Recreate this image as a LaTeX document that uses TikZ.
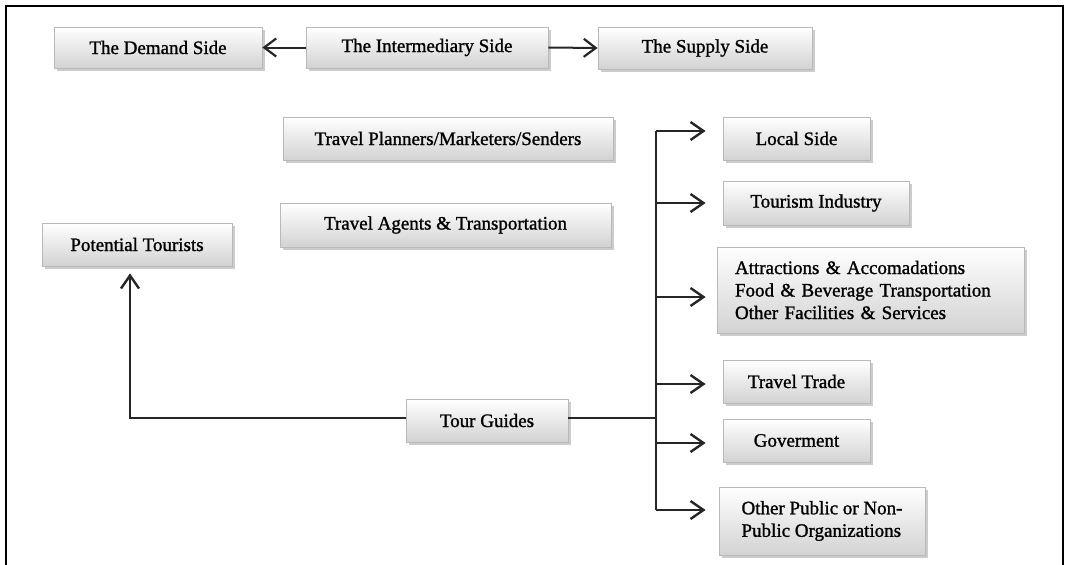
\documentclass[tikz,border=0pt]{standalone}
\usepackage{fontspec}
\setmainfont{Liberation Serif}
\newfontfamily\boxfont{Liberation Serif}[FakeBold=1.2]
\usetikzlibrary{arrows.meta,shadows}
\tikzset{
  box/.style={draw=gray!55, line width=0.8pt, top color=white, bottom color=gray!35,
    drop shadow={shadow xshift=2.5pt, shadow yshift=-3pt, opacity=0.5, fill=gray!80},
    inner sep=0pt, font=\boxfont\fontsize{19}{22.5}\selectfont, text=black},
  arr/.style={draw=black!85, line width=2.6pt, -{Straight Barb[length=13pt,width=18pt,line width=2.4pt]}},
  tarr/.style={draw=black!85, line width=2pt, -{Straight Barb[length=12pt,width=18pt,line width=2.2pt]}},
  ln/.style={draw=black!85, line width=2.6pt},
  frame/.style={draw=black, line width=1.8pt}
}
\begin{document}
\begin{tikzpicture}[x=1pt,y=-1pt]
\useasboundingbox (0,0) rectangle (1066,565);
\draw[frame] (6,565) -- (6,6) -- (1063,6) -- (1063,565);
% top row
\node[box, minimum width=208, minimum height=41] (demand) at (158,47.5) {The Demand Side};
\node[box, minimum width=242, minimum height=41] (inter) at (427,47.5) {The Intermediary Side};
\node[box, minimum width=214, minimum height=42] (supply) at (705,48) {The Supply Side};
% intermediary items
\node[box, minimum width=330, minimum height=43] (planners) at (448,138.5) {Travel Planners/Marketers/Senders};
\node[box, minimum width=331, minimum height=44] (agents) at (445.5,225) {Travel Agents \& Transportation};
\node[box, minimum width=190, minimum height=43] (potential) at (137,244.5) {Potential Tourists};
\node[box, minimum width=162, minimum height=43] (tour) at (487,420.5) {Tour Guides};
% supply items
\node[box, minimum width=147, minimum height=43] (local) at (796.5,138.5) {Local Side};
\node[box, minimum width=186, minimum height=44] (industry) at (816,203) {Tourism Industry};
\node[box, minimum width=307, minimum height=86, align=left, text width=271] (attr) at (870.5,290) {Attractions \& Accomadations\\Food \& Beverage Transportation\\Other Facilities \& Services};
\node[box, minimum width=147, minimum height=43] (trade) at (796.5,381.5) {Travel Trade};
\node[box, minimum width=147, minimum height=43] (gov) at (796.5,440.5) {Goverment};
\node[box, minimum width=206, minimum height=68, align=left] (public) at (822,521) {Other Public or Non-\\Public Organizations};
% top arrows
\draw[tarr] (inter.west) -- (demand.east);
\draw[tarr] (inter.east) -- (supply.west);
% tour guides to potential tourists
\coordinate (corner) at (130,418);
\draw[arr, shorten >=7pt] (tour.west |- corner) -- (corner) -- (corner |- potential.south);
% trunk
\coordinate (tLocal) at (656,131);
\coordinate (tInd) at (656,203);
\coordinate (tAttr) at (656,297);
\coordinate (tTrade) at (656,384);
\coordinate (tGov) at (656,443);
\coordinate (tPub) at (656,510);
\draw[ln] (tLocal) -- (tPub);
\draw[draw=black!85, line width=1.8pt] (tour.east |- 0,418) -- (656,418);
\draw[arr, shorten >=17pt] (tLocal) -- (tLocal -| local.west);
\draw[arr, shorten >=17pt] (tInd) -- (tInd -| industry.west);
\draw[arr, shorten >=11pt] (tAttr) -- (tAttr -| attr.west);
\draw[arr, shorten >=17pt] (tTrade) -- (tTrade -| trade.west);
\draw[arr, shorten >=17pt] (tGov) -- (tGov -| gov.west);
\draw[arr, shorten >=13pt] (tPub) -- (tPub -| public.west);
\end{tikzpicture}
\end{document}
